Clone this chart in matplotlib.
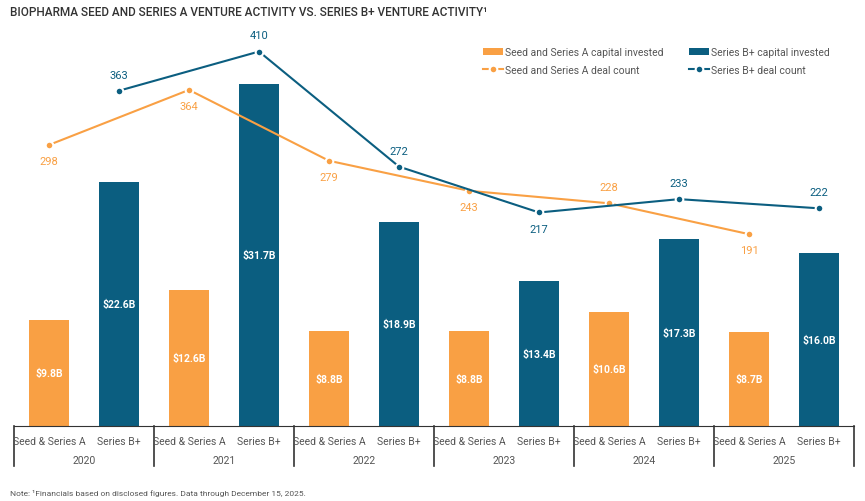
import matplotlib.pyplot as plt
import numpy as np
from matplotlib import transforms

plt.rcParams['font.family'] = ['Roboto', 'DejaVu Sans']

# Data
years = ["2020", "2021", "2022", "2023", "2024", "2025"]
seed_capital = [9.8, 12.6, 8.8, 8.8, 10.6, 8.7]
b_capital = [22.6, 31.7, 18.9, 13.4, 17.3, 16.0]
seed_deals = [298, 364, 279, 243, 228, 191]
b_deals = [363, 410, 272, 217, 233, 222]
sub_labels = ["Seed & Series A", "Series B+"]

# Colors
c_orange = "#F9A044"
c_blue = "#0B5E80"
c_text = "#555555"

fig = plt.figure(figsize=(8.65, 5.02), dpi=100)
ax = fig.add_axes([14 / 865, 75 / 502, 840 / 865, 397 / 502])
ax2 = ax.twinx()

x = np.arange(len(years))
x_seed = x + 0.25
x_b = x + 0.75
w = 0.286

bars1 = ax.bar(x_seed, seed_capital, width=w, color=c_orange, label="Seed and Series A capital invested")
bars2 = ax.bar(x_b, b_capital, width=w, color=c_blue, label="Series B+ capital invested")

for bars in (bars1, bars2):
    for b in bars:
        h = b.get_height()
        ax.text(b.get_x() + b.get_width() / 2, h / 2, f"${h:.1f}B", ha='center', va='center',
                color='white', fontsize=7.5, fontweight='bold')

ax.set_xlim(0, 6)
ax.set_ylim(0, 36.8)
ax2.set_ylim(-39, 437)

l1, = ax2.plot(x_seed, seed_deals, color=c_orange, lw=1.5, marker='o', ms=5.5,
               mec='white', mew=1.5, label="Seed and Series A deal count")
l2, = ax2.plot(x_b, b_deals, color=c_blue, lw=1.5, marker='o', ms=5.5,
               mec='white', mew=1.5, label="Series B+ deal count")

seed_above = [False, False, False, False, True, False]
b_above = [True, True, True, False, True, True]
for xi, v, up in zip(x_seed, seed_deals, seed_above):
    ax2.annotate(str(v), (xi, v), xytext=(0, 8 if up else -8), textcoords='offset points',
                 ha='center', va='bottom' if up else 'top', color=c_orange, fontsize=8)
for xi, v, up in zip(x_b, b_deals, b_above):
    ax2.annotate(str(v), (xi, v), xytext=(0, 8 if up else -8), textcoords='offset points',
                 ha='center', va='bottom' if up else 'top', color=c_blue, fontsize=8)

for a in (ax, ax2):
    for s in ('top', 'right', 'left'):
        a.spines[s].set_visible(False)
    a.set_yticks([])
    a.set_xticks([])
ax.spines['bottom'].set_color('#333333')
ax2.spines['bottom'].set_visible(False)

# category axis
trans = transforms.blended_transform_factory(ax.transData, ax.transAxes)
for i in range(len(years) + 1):
    ax.plot([i, i], [0, -0.1], transform=trans, color='#333333', lw=1.2, clip_on=False)
for i, yr in enumerate(years):
    ax.text(i + 0.25, -0.037, sub_labels[0], transform=trans, ha='center', va='center',
            color=c_text, fontsize=7.5)
    ax.text(i + 0.75, -0.037, sub_labels[1], transform=trans, ha='center', va='center',
            color=c_text, fontsize=7.5)
    ax.text(i + 0.5, -0.085, yr, transform=trans, ha='center', va='center',
            color=c_text, fontsize=7.5)

# legend, two columns placed separately
leg_kw = dict(frameon=False, loc='upper left', fontsize=7.5, labelcolor=c_text,
              handlelength=1.9, handletextpad=0.2, labelspacing=0.75, borderpad=0)
leg1 = fig.legend([bars1, l1], [bars1.get_label(), l1.get_label()],
                  bbox_to_anchor=(478 / 865, 1 - 43 / 502), **leg_kw)
leg2 = fig.legend([bars2, l2], [bars2.get_label(), l2.get_label()],
                  bbox_to_anchor=(684 / 865, 1 - 43 / 502), **leg_kw)

fig.text(10 / 865, 1 - 13 / 502, "BIOPHARMA SEED AND SERIES A VENTURE ACTIVITY VS. SERIES B+ VENTURE ACTIVITY\u00b9",
         ha='left', va='center', fontsize=8.5, color='#333333', fontweight='medium')
fig.text(10 / 865, 1 - 493 / 502, "Note: \u00b9Financials based on disclosed figures. Data through December 15, 2025.",
         ha='left', va='center', fontsize=6, color=c_text)

fig.savefig("out.png", dpi=100)
